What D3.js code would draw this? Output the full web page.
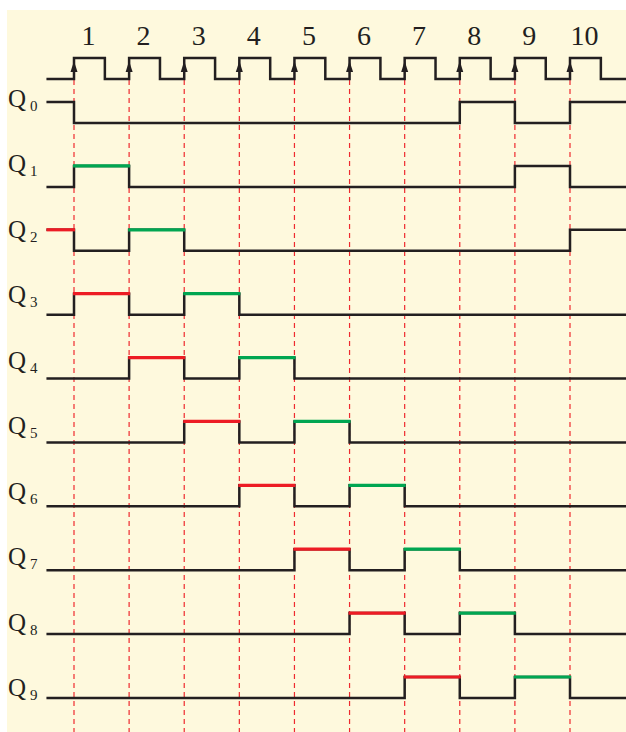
<!DOCTYPE html>
<html>
<head>
<meta charset="utf-8">
<script src="https://cdn.jsdelivr.net/npm/d3@7"></script>
<style>
  body { margin: 0; background: #fff; }
  svg { display: block; }
  text { font-family: "Liberation Serif", "Times New Roman", serif; fill: #231f20; }
</style>
</head>
<body>
<svg id="chart" width="626" height="732"></svg>
<script>
// clock pulse numbers (rising edges)
var pulses = [1, 2, 3, 4, 5, 6, 7, 8, 9, 10];
var pulseLabels = ['1', '2', '3', '4', '5', '6', '7', '8', '9', '10'];

// output names
var outputs = ['0', '1', '2', '3', '4', '5', '6', '7', '8', '9'];

// level of each output in interval k (0 = before pulse 1, k = after pulse k)
var q0 = [1, 0, 0, 0, 0, 0, 0, 0, 1, 0, 1];
var q1 = [0, 1, 0, 0, 0, 0, 0, 0, 0, 1, 0];
var q2 = [1, 0, 1, 0, 0, 0, 0, 0, 0, 0, 1];
var q3 = [0, 1, 0, 1, 0, 0, 0, 0, 0, 0, 0];
var q4 = [0, 0, 1, 0, 1, 0, 0, 0, 0, 0, 0];
var q5 = [0, 0, 0, 1, 0, 1, 0, 0, 0, 0, 0];
var q6 = [0, 0, 0, 0, 1, 0, 1, 0, 0, 0, 0];
var q7 = [0, 0, 0, 0, 0, 1, 0, 1, 0, 0, 0];
var q8 = [0, 0, 0, 0, 0, 0, 1, 0, 1, 0, 0];
var q9 = [0, 0, 0, 0, 0, 0, 0, 1, 0, 1, 0];
var levels = [q0, q1, q2, q3, q4, q5, q6, q7, q8, q9];

// highlighted high intervals: [interval, 'r' | 'g']
var marks = [
  [],
  [[1, 'g']],
  [[0, 'r'], [2, 'g']],
  [[1, 'r'], [3, 'g']],
  [[2, 'r'], [4, 'g']],
  [[3, 'r'], [5, 'g']],
  [[4, 'r'], [6, 'g']],
  [[5, 'r'], [7, 'g']],
  [[6, 'r'], [8, 'g']],
  [[7, 'r'], [9, 'g']]
];

var W = 626, H = 732;
var T_START = 0.5, T_END = 11.05, HIGH_FRAC = 0.56;
var LEVEL_H = 21;
var COLORS = { r: '#ed1c24', g: '#00a651' };

var svg = d3.select('#chart');

svg.append('rect')
  .attr('x', 7).attr('y', 10)
  .attr('width', W - 7).attr('height', H - 10)
  .attr('fill', '#fef9dd');

var x = d3.scaleLinear().domain([1, 10]).range([74, 570]);
var rowY = d3.scaleLinear().domain([0, 9]).range([123, 698]);   // low level
var labelY = d3.scaleLinear().domain([0, 9]).range([107, 696]);

var step = d3.line()
  .x(function(d) { return x(d[0]); })
  .y(function(d) { return d[1]; })
  .curve(d3.curveStepAfter);

// dashed guides at rising edges
svg.append('g').selectAll('line')
  .data(pulses)
  .enter().append('line')
  .attr('x1', function(d) { return x(d); })
  .attr('x2', function(d) { return x(d); })
  .attr('y1', 80).attr('y2', H)
  .attr('stroke', '#ee2a2f')
  .attr('stroke-width', 1.2)
  .attr('stroke-dasharray', '5,4');

// clock
var clkLow = 79, clkHigh = 58;
var clk = [[T_START, clkLow]];
pulses.forEach(function(p) {
  clk.push([p, clkHigh]);
  clk.push([p + HIGH_FRAC, clkLow]);
});
clk.push([T_END, clkLow]);

svg.append('path')
  .attr('d', step(clk))
  .attr('fill', 'none')
  .attr('stroke', '#231f20')
  .attr('stroke-width', 2.5);

svg.append('g').selectAll('path')
  .data(pulses)
  .enter().append('path')
  .attr('d', function(d) {
    var cx = x(d);
    return 'M' + (cx - 3.5) + ',72L' + cx + ',61L' + (cx + 3.5) + ',72Z';
  })
  .attr('fill', '#231f20');

svg.append('g').selectAll('text')
  .data(pulses)
  .enter().append('text')
  .attr('x', function(d) { return x(d + HIGH_FRAC / 2) - 1; })
  .attr('y', 45)
  .attr('text-anchor', 'middle')
  .attr('font-size', 28)
  .text(function(d, i) { return pulseLabels[i]; });

// outputs
levels.forEach(function(lv, r) {
  var low = rowY(r), high = low - LEVEL_H;
  var pts = [[T_START, lv[0] ? high : low]];
  for (var k = 1; k < lv.length; k++) {
    pts.push([pulses[k - 1], lv[k] ? high : low]);
  }
  pts.push([T_END, lv[lv.length - 1] ? high : low]);

  svg.append('path')
    .attr('d', step(pts))
    .attr('fill', 'none')
    .attr('stroke', '#231f20')
    .attr('stroke-width', 2.5);

  marks[r].forEach(function(m) {
    var t0 = m[0] === 0 ? T_START : pulses[m[0] - 1];
    var t1 = pulses[m[0]];
    svg.append('line')
      .attr('x1', x(t0) - (m[0] === 0 ? 0 : 1)).attr('x2', x(t1) + 1)
      .attr('y1', high).attr('y2', high)
      .attr('stroke', COLORS[m[1]])
      .attr('stroke-width', 3.2);
  });

  var lab = svg.append('text')
    .attr('x', 8)
    .attr('y', labelY(r))
    .attr('font-size', 25)
    .text('Q');
  lab.append('tspan')
    .attr('dx', 4).attr('dy', 4)
    .attr('font-size', 15)
    .text(outputs[r]);
});
</script>
</body>
</html>
